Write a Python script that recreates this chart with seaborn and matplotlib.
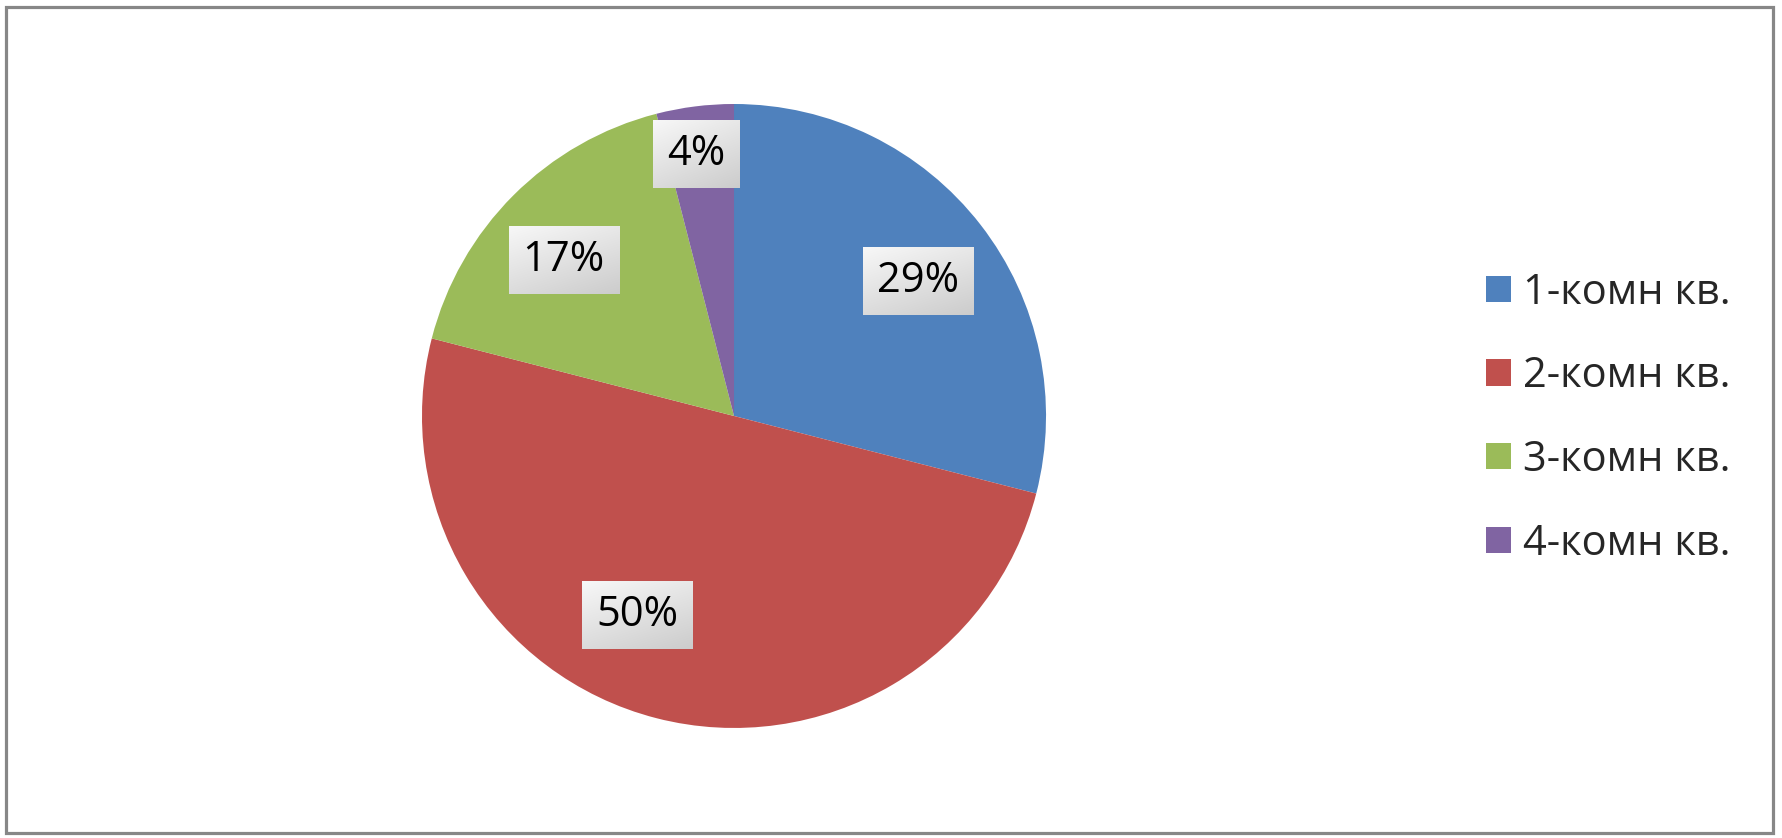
import numpy as np
import matplotlib
matplotlib.use('Agg')
import matplotlib.pyplot as plt
import seaborn as sns
from matplotlib.patches import Rectangle, Patch

# data
categories = ['1-комн кв.', '2-комн кв.', '3-комн кв.', '4-комн кв.']
shares = [29, 50, 17, 4]
colors = ['#4F81BD', '#C0504D', '#9BBB59', '#8064A2']

# label placement tweaks (degrees from slice middle, fraction of radius)
label_shift = [-1.5, -11.5, 2.5, 1.0]
label_dist = [0.73, 0.71, 0.74, 0.85]

sns.set_theme(style='white')
plt.rcParams['font.family'] = ['Open Sans', 'DejaVu Sans']
plt.rcParams['font.weight'] = 'medium'

fig = plt.figure(figsize=(17.82, 8.38), dpi=100)
ax = fig.add_axes([0.2368, 0.1313, 0.3502, 0.7446])

wedges, _ = ax.pie(shares, colors=colors, startangle=90, counterclock=False,
                   wedgeprops=dict(linewidth=0))
ax.set_xlim(-1, 1)
ax.set_ylim(-1, 1)
ax.set_aspect('equal')
ax.axis('off')

# percent labels
texts = []
for w, s, sh, d in zip(wedges, shares, label_shift, label_dist):
    mid = np.deg2rad((w.theta1 + w.theta2) / 2 + sh)
    t = ax.text(d * np.cos(mid), d * np.sin(mid), f'{s}%', fontsize=30,
                ha='center', va='center', color='black', zorder=5)
    texts.append(t)

# gradient boxes behind labels
fig.canvas.draw()
rend = fig.canvas.get_renderer()
inv = ax.transData.inverted()
grad = np.linspace(0, 1, 64)
gx, gy = np.meshgrid(grad, grad)
g = 0.97 - 0.17 * (0.65 * gy + 0.35 * gx)
img = np.dstack([g, g, g])
for t in texts:
    bb = t.get_window_extent(rend)
    x0, y0 = inv.transform((bb.x0 - 14, bb.y0 - 13))
    x1, y1 = inv.transform((bb.x1 + 14, bb.y1 + 13))
    ax.imshow(img, extent=(x0, x1, y0, y1), origin='upper', zorder=4,
              interpolation='bilinear', aspect='auto')
ax.set_xlim(-1, 1)
ax.set_ylim(-1, 1)

handles = [Patch(facecolor=c, edgecolor='none') for c in colors]
fig.legend(handles, categories, loc='center left',
           bbox_to_anchor=(1469 / 1782, 1 - 418 / 838), frameon=False,
           fontsize=30, handlelength=0.6, handleheight=0.6,
           handletextpad=0.3, labelspacing=1.0, borderaxespad=0)

# chart border
fig.patches.append(Rectangle((5.5 / 1782, 5 / 838), 1767 / 1782, 826 / 838,
                             transform=fig.transFigure, fill=False,
                             edgecolor='#878787', linewidth=2.3))

fig.savefig('out.png', dpi=100)
